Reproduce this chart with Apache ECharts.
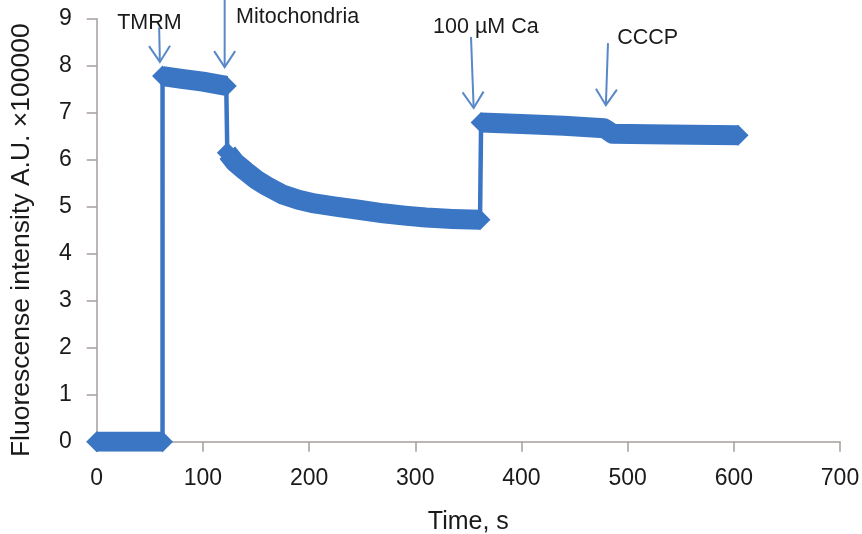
<!DOCTYPE html>
<html>
<head>
<meta charset="utf-8">
<script src="https://cdn.jsdelivr.net/npm/echarts@6/dist/echarts.min.js"></script>
<style>
html,body{margin:0;padding:0;background:#fff;}
#chart{width:862px;height:534px;}
</style>
</head>
<body>
<div id="chart"></div>
<script>
// ---- Data (time in s, intensity ×100000 A.U.) ----
const baselineT = [0, 20, 40, 62];
const baselineV = [0, 0, 0, 0];
const tmrmT = [62, 80, 100, 122];
const tmrmV = [7.78, 7.72, 7.66, 7.57];
const mitoT = [123, 130, 140, 150, 160, 175, 190, 205, 225, 245, 270, 290, 310, 335, 361];
const mitoV = [6.15, 5.95, 5.76, 5.58, 5.44, 5.26, 5.15, 5.07, 5.00, 4.94, 4.86, 4.81, 4.77, 4.74, 4.72];
const caT = [362, 400, 440, 478, 486, 520, 560, 604];
const caV = [6.79, 6.76, 6.72, 6.67, 6.55, 6.54, 6.53, 6.52];

const xTicks = [0, 100, 200, 300, 400, 500, 600, 700];
const yTicks = [0, 1, 2, 3, 4, 5, 6, 7, 8, 9];

// Annotations: label, label anchor [t, y], arrow start [t, y], arrow tip [t, y]
const annLabels = ['TMRM', 'Mitochondria', '100 µM Ca', 'CCCP'];
const annLabelPos = [[15.5, 8.91], [127.5, 9.04], [313, 8.82], [486.5, 8.59]];
const annArrowFrom = [[58.8, 8.82], [120.5, 9.45], [352.5, 8.61], [481.5, 8.48]];
const annArrowTo = [[59.5, 8.08], [120.5, 7.97], [355, 7.10], [479.5, 7.16]];

const BAND = '#3b76c4';
const ARROW = '#5888c7';
const AXIS = '#a59d9b';
const FONT = '"Liberation Sans", Arial, sans-serif';

function pairs(t, v) { return t.map((x, i) => [x, v[i]]); }
const segments = [pairs(baselineT, baselineV), pairs(tmrmT, tmrmV), pairs(mitoT, mitoV), pairs(caT, caV)];
const allPoints = [].concat(...segments);

const chart = echarts.init(document.getElementById('chart'), null, {renderer: 'canvas'});

const series = segments.map(seg => ({
  type: 'line',
  data: seg,
  showSymbol: true,
  symbol: (val, params) => (params.dataIndex === 0 || params.dataIndex === seg.length - 1) ? 'diamond' : 'none',
  symbolSize: 21,
  itemStyle: {color: BAND},
  lineStyle: {color: BAND, width: 20, cap: 'butt', join: 'round'},
  z: 2,
  silent: true
}));
series.push({
  type: 'line',
  data: allPoints,
  showSymbol: false,
  symbol: 'none',
  lineStyle: {color: BAND, width: 4.5},
  z: 1,
  silent: true
});

chart.setOption({
  animation: false,
  backgroundColor: '#fff',
  grid: {left: 96.7, right: 22, top: 18.7, bottom: 92.3, containLabel: false, outerBoundsMode: 'none'},
  xAxis: {
    type: 'value', min: 0, max: 700, interval: 100,
    name: 'Time, s', nameLocation: 'middle', nameGap: 68,
    nameTextStyle: {fontFamily: FONT, fontSize: 25, color: '#1a1a1a'},
    axisLine: {show: true, onZero: false, lineStyle: {color: AXIS, width: 1.5}},
    axisTick: {show: true, length: 10, inside: false, lineStyle: {color: AXIS, width: 1.5}},
    axisLabel: {fontFamily: FONT, fontSize: 23, color: '#1a1a1a', margin: 25,
      customValues: xTicks},
    splitLine: {show: false}
  },
  yAxis: {
    type: 'value', min: 0, max: 9, interval: 1,
    name: 'Fluorescense intensity A.U. ×100000', nameLocation: 'middle', nameGap: 62,
    nameRotate: 90,
    nameTextStyle: {fontFamily: FONT, fontSize: 26.5, color: '#1a1a1a', padding: [0, 20, 0, 0]},
    axisLine: {show: true, onZero: false, lineStyle: {color: AXIS, width: 1.5}},
    axisTick: {show: true, length: 10, lineStyle: {color: AXIS, width: 1.5}},
    axisLabel: {fontFamily: FONT, fontSize: 23, color: '#1a1a1a', margin: 25,
      customValues: yTicks},
    splitLine: {show: false}
  },
  series: series
});

// Annotation arrows and labels placed through the chart's coordinate conversion
const graphics = [];
annLabels.forEach((label, i) => {
  const p0 = chart.convertToPixel({gridIndex: 0}, annArrowFrom[i]);
  const p1 = chart.convertToPixel({gridIndex: 0}, annArrowTo[i]);
  const lp = chart.convertToPixel({gridIndex: 0}, annLabelPos[i]);
  const dx = p1[0] - p0[0], dy = p1[1] - p0[1];
  const len = Math.sqrt(dx * dx + dy * dy);
  const ux = dx / len, uy = dy / len;
  const back = 16, side = 10.5;
  const w1 = [p1[0] - ux * back - uy * side, p1[1] - uy * back + ux * side];
  const w2 = [p1[0] - ux * back + uy * side, p1[1] - uy * back - ux * side];
  graphics.push({
    type: 'text', z: 10, silent: true,
    style: {text: label, x: lp[0], y: lp[1], fill: '#1a1a1a', font: '21.5px ' + FONT,
      verticalAlign: 'middle', align: 'left',
      backgroundColor: '#fff', padding: [2, 4]}
  });
  graphics.push({
    type: 'line', z: 11, silent: true,
    shape: {x1: p0[0], y1: p0[1], x2: p1[0], y2: p1[1]},
    style: {stroke: ARROW, lineWidth: 2}
  });
  graphics.push({
    type: 'polyline', z: 11, silent: true,
    shape: {points: [w1, p1, w2]},
    style: {stroke: ARROW, lineWidth: 2, fill: null}
  });
});
chart.setOption({graphic: graphics});
</script>
</body>
</html>
